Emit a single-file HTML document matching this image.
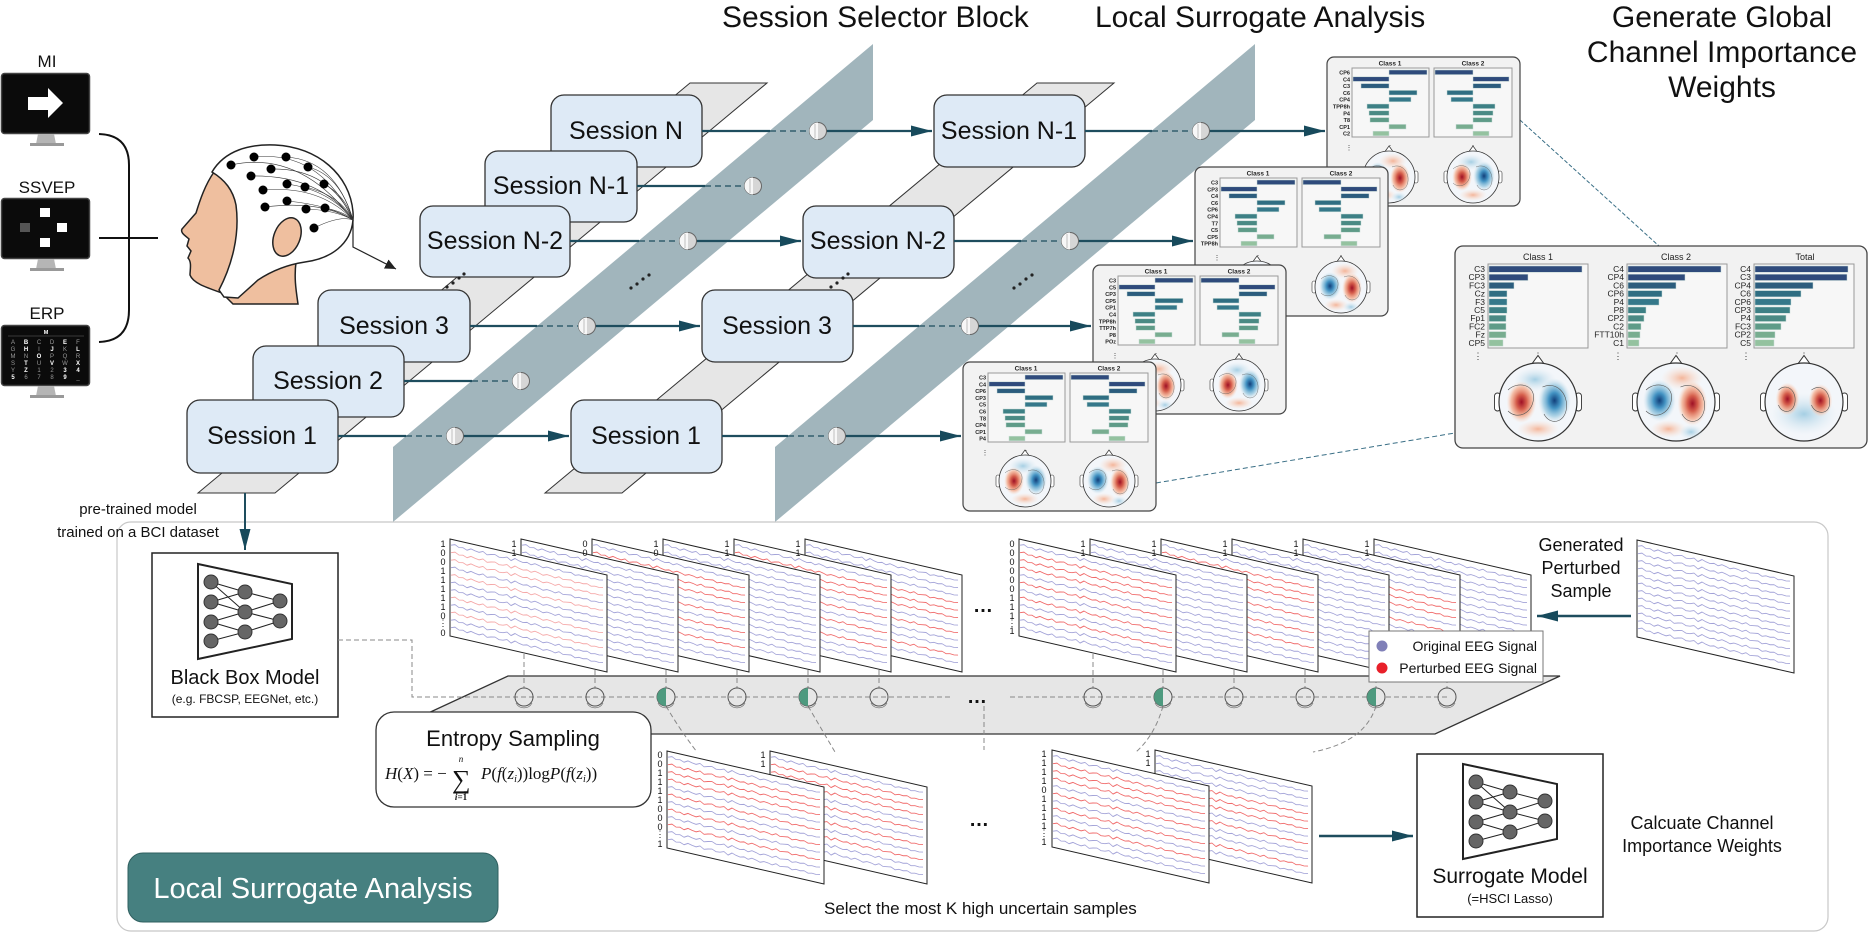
<!DOCTYPE html>
<html><head><meta charset="utf-8"><style>
html,body{margin:0;padding:0;background:#fff;}
svg{display:block;font-family:"Liberation Sans",Arial,sans-serif;}
</style></head><body>
<svg width="1869" height="933" viewBox="0 0 1869 933" xmlns="http://www.w3.org/2000/svg">
<defs>
<marker id="ar" markerUnits="userSpaceOnUse" markerWidth="22" markerHeight="12" refX="21" refY="6" orient="auto"><path d="M0,0.5 L21,6 L0,11.5 Z" fill="#174a5c"/></marker>
<marker id="ak" markerUnits="userSpaceOnUse" markerWidth="12" markerHeight="10" refX="11" refY="5" orient="auto"><path d="M0,0 L11,5 L0,10 Z" fill="#222"/></marker>
<radialGradient id="gR"><stop offset="0" stop-color="#9e1025"/><stop offset="0.35" stop-color="#d6604d"/><stop offset="0.7" stop-color="#f4a582" stop-opacity="0.7"/><stop offset="1" stop-color="#fddbc7" stop-opacity="0"/></radialGradient>
<radialGradient id="gB"><stop offset="0" stop-color="#113f7a"/><stop offset="0.35" stop-color="#4393c3"/><stop offset="0.7" stop-color="#92c5de" stop-opacity="0.7"/><stop offset="1" stop-color="#d1e5f0" stop-opacity="0"/></radialGradient>
<radialGradient id="gRl"><stop offset="0" stop-color="#f4a582" stop-opacity="0.8"/><stop offset="1" stop-color="#fddbc7" stop-opacity="0"/></radialGradient>
<radialGradient id="gBl"><stop offset="0" stop-color="#92c5de" stop-opacity="0.8"/><stop offset="1" stop-color="#d1e5f0" stop-opacity="0"/></radialGradient>
<path id="w" d="M1,0 l4,-1.5 l4,2 l4,-0.8 l4,1.6 l4,-2.2 l4,1 l4,0.6 l4,-1.8 l4,2.4 l4,-1.2 l4,-0.9 l4,1.7 l4,-0.4 l4,-1.5 l4,2.6 l4,-3 l4,1.4 l4,0.8 l4,-1.1 l4,1.5 l4,-2 l4,0.9 l4,1.3 l4,-1.6 l4,0.4 l4,1.1 l4,-2.1 l4,1.8 l4,-0.7 l4,-0.6 l4,1.9 l4,-1.4 l4,0.5 l4,-1 l4,1.6 l4,-0.9 l4,0.3 l4,-0.8"/>
<g id="sB"><polygon points="0,0 157,36 157,133 0,97" fill="#fff" stroke="#222" stroke-width="1"/>
<g transform="skewY(12.93)" fill="none" stroke="#a3a3d8" stroke-width="0.9">
<use href="#w" y="6"/><use href="#w" y="13.5"/><use href="#w" y="21"/><use href="#w" y="28.5"/><use href="#w" y="36"/><use href="#w" y="43.5"/><use href="#w" y="51"/><use href="#w" y="58.5"/><use href="#w" y="66"/><use href="#w" y="73.5"/><use href="#w" y="81"/><use href="#w" y="88.5"/></g></g>
<g id="sR1"><polygon points="0,0 157,36 157,133 0,97" fill="#fff" stroke="#222" stroke-width="1"/>
<g transform="skewY(12.93)" fill="none" stroke="#a3a3d8" stroke-width="0.9">
<use href="#w" y="6"/><use href="#w" y="13.5" stroke="#f06a6a"/><use href="#w" y="21" stroke="#f06a6a"/><use href="#w" y="28.5" stroke="#f06a6a"/><use href="#w" y="36"/><use href="#w" y="43.5" stroke="#f06a6a"/><use href="#w" y="51"/><use href="#w" y="58.5" stroke="#f06a6a"/><use href="#w" y="66"/><use href="#w" y="73.5" stroke="#f06a6a"/><use href="#w" y="81"/><use href="#w" y="88.5"/></g></g>
<g id="sR2"><polygon points="0,0 157,36 157,133 0,97" fill="#fff" stroke="#222" stroke-width="1"/>
<g transform="skewY(12.93)" fill="none" stroke="#a3a3d8" stroke-width="0.9">
<use href="#w" y="6"/><use href="#w" y="13.5"/><use href="#w" y="21"/><use href="#w" y="28.5" stroke="#f06a6a"/><use href="#w" y="36" stroke="#f06a6a"/><use href="#w" y="43.5" stroke="#f06a6a"/><use href="#w" y="51"/><use href="#w" y="58.5" stroke="#f06a6a"/><use href="#w" y="66"/><use href="#w" y="73.5"/><use href="#w" y="81" stroke="#f06a6a"/><use href="#w" y="88.5"/></g></g>
<g id="sP"><polygon points="0,0 157,36 157,133 0,97" fill="#fff" stroke="#222" stroke-width="1"/>
<g transform="skewY(12.93)" fill="none" stroke="#a3a3d8" stroke-width="0.9">
<use href="#w" y="6"/><use href="#w" y="13.5" stroke="#f5a8a8"/><use href="#w" y="21" stroke="#f5a8a8"/><use href="#w" y="28.5"/><use href="#w" y="36" stroke="#f5a8a8"/><use href="#w" y="43.5"/><use href="#w" y="51"/><use href="#w" y="58.5" stroke="#f5a8a8"/><use href="#w" y="66"/><use href="#w" y="73.5" stroke="#f5a8a8"/><use href="#w" y="81"/><use href="#w" y="88.5"/></g></g>

<g id="nd"><circle r="8.5" fill="#d6d6d6" stroke="#666" stroke-width="1"/><path d="M0,-8.5 A8.5,8.5 0 0 0 0,8.5 Z" fill="#f7f7f7"/><line x1="-3" y1="-7" x2="-3" y2="7" stroke="#999" stroke-width="0.6"/></g>
<g id="pc"><circle r="9" fill="none" stroke="#555" stroke-width="1"/><path d="M-8,6 A9,9 0 0 0 8,6" fill="none" stroke="#777" stroke-width="0.8"/></g>
<g id="pg"><circle r="9" fill="#e6e6e6" stroke="#555" stroke-width="1"/><path d="M0,-9 A9,9 0 0 0 0,9 Z" fill="#4e9a7f"/><path d="M-8,6 A9,9 0 0 0 8,6" fill="none" stroke="#777" stroke-width="0.8"/></g>

<g id="net">
<polygon points="198,564 292,584 292,639 198,659" fill="#fff" stroke="#222" stroke-width="2"/>
<g stroke="#222" stroke-width="1">
<line x1="211" y1="582" x2="245" y2="592"/><line x1="211" y1="602" x2="245" y2="592"/><line x1="211" y1="602" x2="245" y2="612"/><line x1="211" y1="622" x2="245" y2="612"/><line x1="211" y1="622" x2="245" y2="632"/><line x1="211" y1="582" x2="245" y2="612"/><line x1="211" y1="641" x2="245" y2="632"/>
<line x1="245" y1="592" x2="280" y2="601"/><line x1="245" y1="612" x2="280" y2="601"/><line x1="245" y1="612" x2="280" y2="621"/><line x1="245" y1="632" x2="280" y2="621"/></g>
<g fill="#666" stroke="#333" stroke-width="1">
<circle cx="211" cy="582" r="7"/><circle cx="211" cy="602" r="7"/><circle cx="211" cy="622" r="7"/><circle cx="211" cy="641" r="7"/>
<circle cx="245" cy="592" r="7"/><circle cx="245" cy="612" r="7"/><circle cx="245" cy="632" r="7"/>
<circle cx="280" cy="601" r="7"/><circle cx="280" cy="621" r="7"/></g></g>

<g id="hd">
<rect x="-29" y="-6" width="4" height="12" rx="2" fill="#fff" stroke="#333" stroke-width="0.6"/><rect x="25" y="-6" width="4" height="12" rx="2" fill="#fff" stroke="#333" stroke-width="0.6"/>
<path d="M-4,-25.5 L0,-31 L4,-25.5" fill="#fff" stroke="#333" stroke-width="0.7"/>
<circle r="26" fill="#f3f6fa" stroke="#333" stroke-width="0.8"/></g>
<g id="hA"><use href="#hd"/><ellipse cx="4" cy="-16" rx="14" ry="8" fill="url(#gRl)"/><ellipse cx="-5" cy="18" rx="12" ry="6" fill="url(#gRl)"/><ellipse cx="-11" cy="-1" rx="11" ry="14" fill="url(#gB)"/><ellipse cx="11" cy="1" rx="10" ry="15" fill="url(#gR)"/><ellipse cx="10" cy="20" rx="8" ry="5" fill="url(#gBl)"/><path d="M-20,-8 C-14,-14 -2,-12 -3,-2 C-4,8 -14,12 -20,6 M3,-10 C12,-14 20,-6 19,4 C18,14 8,16 4,8" fill="none" stroke="#555" stroke-width="0.4"/></g>
<g id="hB"><use href="#hd"/><ellipse cx="-2" cy="-15" rx="14" ry="8" fill="url(#gBl)"/><ellipse cx="0" cy="18" rx="14" ry="6" fill="url(#gRl)"/><ellipse cx="-11" cy="0" rx="10" ry="14" fill="url(#gR)"/><ellipse cx="11" cy="-1" rx="11" ry="15" fill="url(#gB)"/><path d="M-20,-8 C-14,-14 -2,-12 -3,-2 C-4,8 -14,12 -20,6 M3,-10 C12,-14 20,-6 19,4 C18,14 8,16 4,8" fill="none" stroke="#555" stroke-width="0.4"/></g>
<g id="hT"><use href="#hd"/><ellipse cx="0" cy="8" rx="22" ry="14" fill="url(#gBl)"/><ellipse cx="-11" cy="-2" rx="8" ry="11" fill="url(#gR)"/><ellipse cx="11" cy="-1" rx="8" ry="11" fill="url(#gR)"/><path d="M-17,-8 C-12,-13 -5,-8 -6,0 C-7,8 -15,8 -17,2 M5,-8 C12,-13 18,-6 17,2 C16,9 7,8 5,2" fill="none" stroke="#555" stroke-width="0.4"/></g>

<g id="ch">
<rect x="0" y="0" width="193" height="149" rx="7" fill="#f2f2f2" stroke="#444" stroke-width="1.2"/>
<rect x="25" y="11" width="77" height="69" fill="#f7f7f7" stroke="#999" stroke-width="1"/>
<rect x="107" y="11" width="78" height="69" fill="#f7f7f7" stroke="#999" stroke-width="1"/>
<g stroke="#c8dcd8" stroke-width="0.5">
<rect x="62" y="13" width="38" height="4.6" fill="#2f4b7c"/><rect x="26" y="19.8" width="36" height="4.6" fill="#2f4b7c"/><rect x="34" y="26.6" width="28" height="4.6" fill="#2c5d7e"/><rect x="62" y="33.4" width="28" height="4.6" fill="#2f6e82"/><rect x="62" y="40.2" width="22" height="4.6" fill="#35788a"/><rect x="40" y="47" width="22" height="4.6" fill="#3d8085"/><rect x="42" y="53.8" width="20" height="4.6" fill="#4a8a84"/><rect x="43" y="60.6" width="19" height="4.6" fill="#5f9b88"/><rect x="62" y="67.4" width="17" height="4.6" fill="#78ad90"/><rect x="46" y="74.2" width="16" height="4.6" fill="#94c29f"/>
<rect x="108" y="13" width="38" height="4.6" fill="#2f4b7c"/><rect x="146" y="19.8" width="36" height="4.6" fill="#2f4b7c"/><rect x="146" y="26.6" width="28" height="4.6" fill="#2c5d7e"/><rect x="120" y="33.4" width="26" height="4.6" fill="#2f6e82"/><rect x="124" y="40.2" width="22" height="4.6" fill="#35788a"/><rect x="146" y="47" width="22" height="4.6" fill="#3d8085"/><rect x="146" y="53.8" width="20" height="4.6" fill="#4a8a84"/><rect x="146" y="60.6" width="19" height="4.6" fill="#5f9b88"/><rect x="129" y="67.4" width="17" height="4.6" fill="#78ad90"/><rect x="146" y="74.2" width="16" height="4.6" fill="#94c29f"/></g>
<g font-size="7" fill="#333" text-anchor="middle"><text x="22" y="93">⋮</text><text x="63" y="93">⋮</text><text x="146" y="93">⋮</text></g>
<g font-size="6.5" font-weight="bold" fill="#222" text-anchor="middle"><text x="63" y="8.5">Class 1</text><text x="146" y="8.5">Class 2</text></g>
</g>
</defs>

<!-- Titles -->
<g font-size="30" fill="#111">
<text x="722" y="27">Session Selector Block</text>
<text x="1095" y="27">Local Surrogate Analysis</text>
<text x="1722" y="27" text-anchor="middle">Generate Global</text>
<text x="1722" y="62" text-anchor="middle">Channel Importance</text>
<text x="1722" y="97" text-anchor="middle">Weights</text>
</g>

<!-- Monitors -->
<g font-size="17" fill="#111" text-anchor="middle">
<text x="47" y="67">MI</text><text x="47" y="193">SSVEP</text><text x="47" y="319">ERP</text></g>
<g>
<rect x="1.5" y="73.5" width="88" height="60" rx="3" fill="#0b0b0b" stroke="#444" stroke-width="1.5"/>
<polygon points="38,134 54,134 56,144 36,144" fill="#b5b5b5"/><rect x="30" y="143" width="34" height="3" fill="#999"/>
<polygon points="28,97 48,97 48,88 63,103 48,118 48,110 28,110" fill="#fff"/>
<rect x="1.5" y="198.5" width="88" height="60" rx="3" fill="#0b0b0b" stroke="#444" stroke-width="1.5"/>
<polygon points="38,259 54,259 56,269 36,269" fill="#b5b5b5"/><rect x="30" y="268" width="34" height="3" fill="#999"/>
<rect x="40" y="208" width="10" height="9" fill="#fff"/><rect x="20" y="223" width="10" height="9" fill="#555"/><rect x="57" y="223" width="10" height="9" fill="#fff"/><rect x="40" y="238" width="10" height="9" fill="#fff"/>
<rect x="1.5" y="325.5" width="88" height="60" rx="3" fill="#0b0b0b" stroke="#444" stroke-width="1.5"/>
<polygon points="38,386 54,386 56,396 36,396" fill="#b5b5b5"/><rect x="30" y="395" width="34" height="3" fill="#999"/>
<text x="46" y="334" font-size="5.5" fill="#fff" text-anchor="middle" font-weight="bold">M</text>
<line x1="8" y1="336" x2="84" y2="336" stroke="#666" stroke-width="0.6"/>
<g font-size="6" fill="#9a9a9a" text-anchor="middle">
<text x="13" y="344">A</text><text x="26" y="344" fill="#fff" font-weight="bold">B</text><text x="39" y="344">C</text><text x="52" y="344">D</text><text x="65" y="344" fill="#fff" font-weight="bold">E</text><text x="78" y="344">F</text>
<text x="13" y="351">G</text><text x="26" y="351" fill="#fff" font-weight="bold">H</text><text x="39" y="351">I</text><text x="52" y="351" fill="#fff" font-weight="bold">J</text><text x="65" y="351">K</text><text x="78" y="351" fill="#fff" font-weight="bold">L</text>
<text x="13" y="358">M</text><text x="26" y="358">N</text><text x="39" y="358" fill="#fff" font-weight="bold">O</text><text x="52" y="358">P</text><text x="65" y="358">Q</text><text x="78" y="358">R</text>
<text x="13" y="365">S</text><text x="26" y="365" fill="#fff" font-weight="bold">T</text><text x="39" y="365">U</text><text x="52" y="365" fill="#fff" font-weight="bold">V</text><text x="65" y="365">W</text><text x="78" y="365" fill="#fff" font-weight="bold">X</text>
<text x="13" y="372">Y</text><text x="26" y="372" fill="#fff" font-weight="bold">Z</text><text x="39" y="372">1</text><text x="52" y="372">2</text><text x="65" y="372" fill="#fff" font-weight="bold">3</text><text x="78" y="372" fill="#fff" font-weight="bold">4</text>
<text x="13" y="379" fill="#fff" font-weight="bold">5</text><text x="26" y="379">6</text><text x="39" y="379">7</text><text x="52" y="379">8</text><text x="65" y="379" fill="#fff" font-weight="bold">9</text><text x="78" y="379">_</text></g>
</g>
<!-- Brace -->
<path d="M99,134 Q129,135 129,165 L129,310 Q129,341 99,342" fill="none" stroke="#111" stroke-width="2"/>
<line x1="99" y1="238" x2="158" y2="238" stroke="#111" stroke-width="2"/>

<!-- Head -->
<path d="M214,172 C205,185 200,200 196,213 L182,229 C180,233 186,236 189,239 L187,246 L191,251 L188,258 C192,262 190,270 190,275 C193,283 205,287 222,293 L233,304 L298,304 C296,290 294,278 296,262 L300,240 L262,190 Z" fill="#efbf9f" stroke="#222" stroke-width="1.5"/>
<path d="M212,172 C225,150 250,144 275,145 C318,147 350,175 353,212 C355,240 335,258 305,262 C285,265 270,272 258,280 L238,298 L224,297 L219,290 C232,265 240,235 236,205 C233,190 225,180 212,172 Z" fill="#fff" stroke="#222" stroke-width="1.5"/>
<ellipse cx="287" cy="237" rx="13" ry="20" transform="rotate(22 287 237)" fill="#efbf9f" stroke="#222" stroke-width="1.5"/>
<g fill="none" stroke="#333" stroke-width="0.6">
<path d="M231,165 Q300,150 353,220"/><path d="M254,157 Q320,150 353,220"/><path d="M286,157 Q335,160 353,220"/><path d="M271,169 Q330,168 353,220"/><path d="M308,167 Q340,175 353,220"/><path d="M251,176 Q320,175 353,220"/><path d="M263,190 Q320,185 353,220"/><path d="M287,184 Q330,190 353,220"/><path d="M305,187 Q340,195 353,220"/><path d="M324,184 Q345,195 353,220"/><path d="M265,207 Q320,200 353,220"/><path d="M287,201 Q330,205 353,220"/><path d="M306,209 Q335,210 353,220"/><path d="M325,208 Q345,212 353,220"/><path d="M314,228 Q340,215 353,220"/></g>
<g fill="#000"><circle cx="231" cy="165" r="4.5"/><circle cx="254" cy="157" r="4.5"/><circle cx="286" cy="157" r="4.5"/><circle cx="271" cy="169" r="4.5"/><circle cx="308" cy="167" r="4.5"/><circle cx="251" cy="176" r="4.5"/><circle cx="263" cy="190" r="4.5"/><circle cx="287" cy="184" r="4.5"/><circle cx="305" cy="187" r="4.5"/><circle cx="324" cy="184" r="4.5"/><circle cx="265" cy="207" r="4.5"/><circle cx="287" cy="201" r="4.5"/><circle cx="306" cy="209" r="4.5"/><circle cx="325" cy="208" r="4.5"/><circle cx="314" cy="228" r="4.5"/></g>
<path d="M353,220 L353,247 L396,269" fill="none" stroke="#222" stroke-width="1.2" marker-end="url(#ak)"/>

<!-- Slabs -->
<polygon points="690,83 767,83 275,493 198,493" fill="#e6e6e6" stroke="#333" stroke-width="1"/>
<polygon points="1037,83 1114,83 622,493 545,493" fill="#e6e6e6" stroke="#333" stroke-width="1"/>

<!-- Session boxes col1 -->
<rect x="551" y="95" width="151" height="72" rx="13" fill="#deeaf6" stroke="#333" stroke-width="1.3"/>
<text x="626" y="139" font-size="25" text-anchor="middle" fill="#111">Session N</text>
<rect x="485" y="151" width="152" height="71" rx="13" fill="#deeaf6" stroke="#333" stroke-width="1.3"/>
<text x="561" y="194" font-size="25" text-anchor="middle" fill="#111">Session N-1</text>
<rect x="420" y="206" width="150" height="71" rx="13" fill="#deeaf6" stroke="#333" stroke-width="1.3"/>
<text x="495" y="249" font-size="25" text-anchor="middle" fill="#111">Session N-2</text>
<rect x="318" y="290" width="152" height="72" rx="13" fill="#deeaf6" stroke="#333" stroke-width="1.3"/>
<text x="394" y="334" font-size="25" text-anchor="middle" fill="#111">Session 3</text>
<rect x="253" y="346" width="151" height="71" rx="13" fill="#deeaf6" stroke="#333" stroke-width="1.3"/>
<text x="328" y="389" font-size="25" text-anchor="middle" fill="#111">Session 2</text>
<rect x="187" y="400" width="151" height="73" rx="13" fill="#deeaf6" stroke="#333" stroke-width="1.3"/>
<text x="262" y="444" font-size="25" text-anchor="middle" fill="#111">Session 1</text>
<!-- col2 -->
<rect x="934" y="95" width="151" height="72" rx="13" fill="#deeaf6" stroke="#333" stroke-width="1.3"/>
<text x="1009" y="139" font-size="25" text-anchor="middle" fill="#111">Session N-1</text>
<rect x="803" y="206" width="151" height="72" rx="13" fill="#deeaf6" stroke="#333" stroke-width="1.3"/>
<text x="878" y="249" font-size="25" text-anchor="middle" fill="#111">Session N-2</text>
<rect x="702" y="290" width="151" height="72" rx="13" fill="#deeaf6" stroke="#333" stroke-width="1.3"/>
<text x="777" y="334" font-size="25" text-anchor="middle" fill="#111">Session 3</text>
<rect x="571" y="400" width="151" height="73" rx="13" fill="#deeaf6" stroke="#333" stroke-width="1.3"/>
<text x="646" y="444" font-size="25" text-anchor="middle" fill="#111">Session 1</text>

<!-- dots in stacks -->
<g fill="#222"><circle cx="447" cy="287" r="1.6"/><circle cx="453" cy="283" r="1.6"/><circle cx="459" cy="278" r="1.6"/><circle cx="464" cy="274" r="1.6"/>
<circle cx="831" cy="287" r="1.6"/><circle cx="837" cy="283" r="1.6"/><circle cx="843" cy="278" r="1.6"/><circle cx="848" cy="274" r="1.6"/></g>

<!-- Bands -->
<polygon points="393,447 873,44 873,120 393,522" fill="#a1b5bc"/>
<polygon points="775,447 1255,44 1255,120 775,522" fill="#a1b5bc"/>
<g fill="#222"><circle cx="631" cy="288" r="1.6"/><circle cx="637" cy="284" r="1.6"/><circle cx="643" cy="279" r="1.6"/><circle cx="649" cy="275" r="1.6"/>
<circle cx="1014" cy="288" r="1.6"/><circle cx="1020" cy="284" r="1.6"/><circle cx="1026" cy="279" r="1.6"/><circle cx="1032" cy="275" r="1.6"/></g>

<!-- Row connectors -->
<g stroke="#1e4d5e" stroke-width="2.2" fill="none">
<line x1="702" y1="131" x2="770" y2="131"/><line x1="818" y1="131" x2="932" y2="131" marker-end="url(#ar)"/>
<line x1="637" y1="186" x2="705" y2="186"/>
<line x1="570" y1="241" x2="639" y2="241"/><line x1="688" y1="241" x2="801" y2="241" marker-end="url(#ar)"/>
<line x1="470" y1="326" x2="537" y2="326"/><line x1="587" y1="326" x2="700" y2="326" marker-end="url(#ar)"/>
<line x1="404" y1="381" x2="472" y2="381"/>
<line x1="338" y1="436" x2="406" y2="436"/><line x1="455" y1="436" x2="569" y2="436" marker-end="url(#ar)"/>
<line x1="1085" y1="131" x2="1152" y2="131"/><line x1="1201" y1="131" x2="1325" y2="131" marker-end="url(#ar)"/>
<line x1="954" y1="241" x2="1021" y2="241"/><line x1="1070" y1="241" x2="1193" y2="241" marker-end="url(#ar)"/>
<line x1="853" y1="326" x2="919" y2="326"/><line x1="970" y1="326" x2="1091" y2="326" marker-end="url(#ar)"/>
<line x1="722" y1="436" x2="788" y2="436"/><line x1="837" y1="436" x2="961" y2="436" marker-end="url(#ar)"/>
</g>
<g stroke="#1e4d5e" stroke-width="1.3" stroke-dasharray="6,4" fill="none">
<line x1="770" y1="131" x2="818" y2="131"/><line x1="705" y1="186" x2="753" y2="186"/><line x1="639" y1="241" x2="688" y2="241"/><line x1="537" y1="326" x2="587" y2="326"/><line x1="472" y1="381" x2="521" y2="381"/><line x1="406" y1="436" x2="455" y2="436"/>
<line x1="1152" y1="131" x2="1201" y2="131"/><line x1="1021" y1="241" x2="1070" y2="241"/><line x1="919" y1="326" x2="970" y2="326"/><line x1="788" y1="436" x2="837" y2="436"/></g>
<use href="#nd" x="818" y="131"/><use href="#nd" x="753" y="186"/><use href="#nd" x="688" y="241"/><use href="#nd" x="587" y="326"/><use href="#nd" x="521" y="381"/><use href="#nd" x="455" y="436"/>
<use href="#nd" x="1201" y="131"/><use href="#nd" x="1070" y="241"/><use href="#nd" x="970" y="326"/><use href="#nd" x="837" y="436"/>

<!-- Dashed links to big chart -->
<line x1="1520" y1="120" x2="1659" y2="246" stroke="#3a6f86" stroke-width="1" stroke-dasharray="4,2"/>
<line x1="1156" y1="483" x2="1455" y2="433" stroke="#3a6f86" stroke-width="1" stroke-dasharray="5,3"/>

<!-- Small charts -->
<g transform="translate(1327,57)"><use href="#ch"/><use href="#hA" x="62" y="120"/><use href="#hB" x="146" y="120"/>
<g font-size="5.5" font-weight="bold" fill="#222" text-anchor="end"><text x="23" y="17.5">CP6</text><text x="23" y="24.3">C4</text><text x="23" y="31.1">C3</text><text x="23" y="37.9">C6</text><text x="23" y="44.7">CP4</text><text x="23" y="51.5">TPP8h</text><text x="23" y="58.3">P4</text><text x="23" y="65.1">T8</text><text x="23" y="71.9">CP1</text><text x="23" y="78.7">C2</text></g></g>
<g transform="translate(1195,167)"><use href="#ch"/><use href="#hB" x="62" y="120"/><use href="#hA" x="146" y="120"/>
<g font-size="5.5" font-weight="bold" fill="#222" text-anchor="end"><text x="23" y="17.5">C3</text><text x="23" y="24.3">CP3</text><text x="23" y="31.1">C4</text><text x="23" y="37.9">C6</text><text x="23" y="44.7">CP6</text><text x="23" y="51.5">CP4</text><text x="23" y="58.3">T7</text><text x="23" y="65.1">C5</text><text x="23" y="71.9">CP5</text><text x="23" y="78.7">TPP8h</text></g></g>
<g transform="translate(1093,265)"><use href="#ch"/><use href="#hA" x="62" y="120"/><use href="#hB" x="146" y="120"/>
<g font-size="5.5" font-weight="bold" fill="#222" text-anchor="end"><text x="23" y="17.5">C3</text><text x="23" y="24.3">C5</text><text x="23" y="31.1">CP3</text><text x="23" y="37.9">CP5</text><text x="23" y="44.7">CP1</text><text x="23" y="51.5">C4</text><text x="23" y="58.3">TPP8h</text><text x="23" y="65.1">TTP7h</text><text x="23" y="71.9">P8</text><text x="23" y="78.7">POz</text></g></g>
<g transform="translate(963,362)"><use href="#ch"/><use href="#hB" x="62" y="119"/><use href="#hA" x="146" y="119"/>
<g font-size="5.5" font-weight="bold" fill="#222" text-anchor="end"><text x="23" y="17.5">C3</text><text x="23" y="24.3">C4</text><text x="23" y="31.1">CP6</text><text x="23" y="37.9">CP3</text><text x="23" y="44.7">C5</text><text x="23" y="51.5">C6</text><text x="23" y="58.3">T8</text><text x="23" y="65.1">CP4</text><text x="23" y="71.9">CP1</text><text x="23" y="78.7">P4</text></g></g>

<!-- Big chart -->
<rect x="1455" y="246" width="412" height="202" rx="8" fill="#f2f2f2" stroke="#444" stroke-width="1.3"/>
<g fill="#f7f7f7" stroke="#999" stroke-width="1"><rect x="1488" y="264" width="100" height="84"/><rect x="1627" y="264" width="100" height="84"/><rect x="1754" y="264" width="100" height="84"/></g>
<g font-size="9" fill="#222" text-anchor="middle"><text x="1538" y="260">Class 1</text><text x="1676" y="260">Class 2</text><text x="1805" y="260">Total</text></g>
<g stroke="#c8dcd8" stroke-width="0.5">
<rect x="1489" y="266" width="93" height="6.3" fill="#2f4b7c"/><rect x="1489" y="274.2" width="39" height="6.3" fill="#2f4b7c"/><rect x="1489" y="282.4" width="25" height="6.3" fill="#2c5d7e"/><rect x="1489" y="290.6" width="18" height="6.3" fill="#2f6e82"/><rect x="1489" y="298.8" width="18" height="6.3" fill="#35788a"/><rect x="1489" y="307" width="18" height="6.3" fill="#3d8085"/><rect x="1489" y="315.2" width="17" height="6.3" fill="#4a8a84"/><rect x="1489" y="323.4" width="17" height="6.3" fill="#5f9b88"/><rect x="1489" y="331.6" width="17" height="6.3" fill="#78ad90"/><rect x="1489" y="339.8" width="14" height="6.3" fill="#94c29f"/>
<rect x="1628" y="266" width="93" height="6.3" fill="#2f4b7c"/><rect x="1628" y="274.2" width="57" height="6.3" fill="#2f4b7c"/><rect x="1628" y="282.4" width="48" height="6.3" fill="#2c5d7e"/><rect x="1628" y="290.6" width="34" height="6.3" fill="#2f6e82"/><rect x="1628" y="298.8" width="31" height="6.3" fill="#35788a"/><rect x="1628" y="307" width="18" height="6.3" fill="#3d8085"/><rect x="1628" y="315.2" width="16" height="6.3" fill="#4a8a84"/><rect x="1628" y="323.4" width="13" height="6.3" fill="#5f9b88"/><rect x="1628" y="331.6" width="12" height="6.3" fill="#78ad90"/><rect x="1628" y="339.8" width="11" height="6.3" fill="#94c29f"/>
<rect x="1755" y="266" width="93" height="6.3" fill="#2f4b7c"/><rect x="1755" y="274.2" width="92" height="6.3" fill="#2f4b7c"/><rect x="1755" y="282.4" width="58" height="6.3" fill="#2c5d7e"/><rect x="1755" y="290.6" width="46" height="6.3" fill="#2f6e82"/><rect x="1755" y="298.8" width="36" height="6.3" fill="#35788a"/><rect x="1755" y="307" width="35" height="6.3" fill="#3d8085"/><rect x="1755" y="315.2" width="31" height="6.3" fill="#4a8a84"/><rect x="1755" y="323.4" width="26" height="6.3" fill="#5f9b88"/><rect x="1755" y="331.6" width="20" height="6.3" fill="#78ad90"/><rect x="1755" y="339.8" width="19" height="6.3" fill="#94c29f"/></g>
<g font-size="8.5" fill="#222" text-anchor="end">
<text x="1485" y="272">C3</text><text x="1485" y="280.2">CP3</text><text x="1485" y="288.4">FC3</text><text x="1485" y="296.6">Cz</text><text x="1485" y="304.8">F3</text><text x="1485" y="313">C5</text><text x="1485" y="321.2">Fp1</text><text x="1485" y="329.4">FC2</text><text x="1485" y="337.6">Fz</text><text x="1485" y="345.8">CP5</text>
<text x="1624" y="272">C4</text><text x="1624" y="280.2">CP4</text><text x="1624" y="288.4">C6</text><text x="1624" y="296.6">CP6</text><text x="1624" y="304.8">P4</text><text x="1624" y="313">P8</text><text x="1624" y="321.2">CP2</text><text x="1624" y="329.4">C2</text><text x="1624" y="337.6">FTT10h</text><text x="1624" y="345.8">C1</text>
<text x="1751" y="272">C4</text><text x="1751" y="280.2">C3</text><text x="1751" y="288.4">CP4</text><text x="1751" y="296.6">C6</text><text x="1751" y="304.8">CP6</text><text x="1751" y="313">CP3</text><text x="1751" y="321.2">P4</text><text x="1751" y="329.4">FC3</text><text x="1751" y="337.6">CP2</text><text x="1751" y="345.8">C5</text></g>
<g font-size="9" fill="#333" text-anchor="middle"><text x="1478" y="359">⋮</text><text x="1538" y="359">⋮</text><text x="1618" y="359">⋮</text><text x="1677" y="359">⋮</text><text x="1746" y="359">⋮</text><text x="1804" y="359">⋮</text></g>
<use href="#hB" transform="translate(1538,402) scale(1.5)"/>
<use href="#hA" transform="translate(1676,402) scale(1.5)"/>
<use href="#hT" transform="translate(1804,402) scale(1.5)"/>

<!-- Bottom container -->
<rect x="117" y="522" width="1711" height="409" rx="14" fill="none" stroke="#c8c8c8" stroke-width="1.2"/>
<line x1="245" y1="493" x2="245" y2="550" stroke="#1e4d5e" stroke-width="2" marker-end="url(#ar)"/>
<g font-size="15" fill="#111" text-anchor="middle"><text x="138" y="514">pre-trained model</text><text x="138" y="537">trained on a BCI dataset</text></g>

<!-- Black box -->
<rect x="152" y="553" width="186" height="164" fill="#fff" stroke="#222" stroke-width="1.5"/>
<use href="#net"/>
<text x="245" y="684" font-size="20" text-anchor="middle" fill="#111">Black Box Model</text>
<text x="245" y="703" font-size="12" text-anchor="middle" fill="#111">(e.g. FBCSP, EEGNet, etc.)</text>

<!-- Platform -->
<polygon points="508,676 1560,676 1435,734 383,734" fill="#e6e6e6" stroke="#333" stroke-width="1.3"/>

<!-- Top sheets group 1 -->
<use href="#sR2" x="805" y="539"/><use href="#sR1" x="734" y="539"/><use href="#sB" x="663" y="539"/><use href="#sR1" x="592" y="539"/><use href="#sB" x="521" y="539"/><use href="#sP" x="450" y="539"/>
<!-- Top sheets group 2 -->
<use href="#sB" x="1374" y="539"/><use href="#sR2" x="1303" y="539"/><use href="#sB" x="1232" y="539"/><use href="#sR1" x="1161" y="539"/><use href="#sB" x="1090" y="539"/><use href="#sR1" x="1019" y="539"/>
<use href="#sB" x="1637" y="540"/>
<g font-size="9" fill="#111" text-anchor="middle">
<text x="443" y="547">1</text><text x="443" y="556">0</text><text x="443" y="565">0</text><text x="443" y="574">1</text><text x="443" y="583">1</text><text x="443" y="592">1</text><text x="443" y="601">1</text><text x="443" y="610">1</text><text x="443" y="619">0</text><text x="443" y="626">⋮</text><text x="443" y="636">0</text>
<text x="514" y="547">1</text><text x="514" y="556">1</text><text x="585" y="547">0</text><text x="585" y="556">0</text><text x="656" y="547">1</text><text x="656" y="556">0</text><text x="727" y="547">1</text><text x="727" y="556">1</text><text x="798" y="547">1</text><text x="798" y="556">1</text>
<text x="1012" y="547">0</text><text x="1012" y="556">0</text><text x="1012" y="565">0</text><text x="1012" y="574">0</text><text x="1012" y="583">0</text><text x="1012" y="592">0</text><text x="1012" y="601">1</text><text x="1012" y="610">1</text><text x="1012" y="619">1</text><text x="1012" y="626">⋮</text><text x="1012" y="634">1</text>
<text x="1083" y="547">1</text><text x="1083" y="556">1</text><text x="1154" y="547">1</text><text x="1154" y="556">1</text><text x="1225" y="547">1</text><text x="1225" y="556">1</text><text x="1296" y="547">1</text><text x="1296" y="556">1</text><text x="1367" y="547">1</text><text x="1367" y="556">1</text>
</g>
<g font-size="20" fill="#111" font-weight="bold"><text x="973" y="612">…</text><text x="969" y="826">…</text><text x="967" y="703">…</text></g>

<!-- Dashed connectors on platform -->
<g stroke="#888" stroke-width="1" stroke-dasharray="5,3" fill="none">
<path d="M338,640 L412,640 L412,697 L950,697"/><line x1="1010" y1="697" x2="1447" y2="697"/>
<line x1="524" y1="654" x2="524" y2="688"/><line x1="595" y1="670" x2="595" y2="688"/><line x1="666" y1="670" x2="666" y2="688"/><line x1="737" y1="670" x2="737" y2="688"/><line x1="808" y1="670" x2="808" y2="688"/><line x1="879" y1="670" x2="879" y2="688"/>
<line x1="1093" y1="654" x2="1093" y2="688"/><line x1="1163" y1="670" x2="1163" y2="688"/><line x1="1234" y1="670" x2="1234" y2="688"/><line x1="1305" y1="670" x2="1305" y2="688"/><line x1="1376" y1="670" x2="1376" y2="688"/><line x1="1447" y1="670" x2="1447" y2="688"/>
<path d="M666,706 Q680,730 697,752"/><path d="M808,706 Q822,730 835,752"/><path d="M1163,706 Q1155,735 1136,752"/><path d="M1376,706 Q1365,742 1313,752"/><line x1="984" y1="706" x2="984" y2="750"/></g>
<use href="#pc" x="524" y="697"/><use href="#pc" x="595" y="697"/><use href="#pg" x="666" y="697"/><use href="#pc" x="737" y="697"/><use href="#pg" x="808" y="697"/><use href="#pc" x="879" y="697"/>
<use href="#pc" x="1093" y="697"/><use href="#pg" x="1163" y="697"/><use href="#pc" x="1234" y="697"/><use href="#pc" x="1305" y="697"/><use href="#pg" x="1376" y="697"/><use href="#pc" x="1447" y="697"/>

<!-- Legend -->
<rect x="1369" y="631" width="174" height="51" fill="#fff" stroke="#777" stroke-width="1"/>
<circle cx="1382" cy="646" r="5.5" fill="#8080b8"/><circle cx="1382" cy="668" r="5.5" fill="#e8202a"/>
<g font-size="14" fill="#111" text-anchor="end"><text x="1537" y="651">Original EEG Signal</text><text x="1537" y="673">Perturbed EEG Signal</text></g>

<!-- Generated perturbed sample -->
<g font-size="18" fill="#111" text-anchor="middle"><text x="1581" y="551">Generated</text><text x="1581" y="574">Perturbed</text><text x="1581" y="597">Sample</text></g>
<line x1="1631" y1="616" x2="1537" y2="616" stroke="#1e4d5e" stroke-width="2.5" marker-end="url(#ar)"/>

<!-- Entropy box -->
<rect x="376" y="712" width="275" height="95" rx="18" fill="#fff" stroke="#333" stroke-width="1.3"/>
<text x="513" y="746" font-size="22" text-anchor="middle" fill="#111">Entropy Sampling</text>
<g font-family="Liberation Serif, serif" fill="#111">
<text x="385" y="779" font-size="17"><tspan font-style="italic">H</tspan>(<tspan font-style="italic">X</tspan>) = −</text>
<text x="452" y="788" font-size="26">∑</text>
<text x="461" y="762" font-size="9" font-style="italic" text-anchor="middle">n</text>
<text x="461" y="800" font-size="9" font-weight="bold" text-anchor="middle"><tspan font-style="italic">i</tspan>=1</text>
<text x="481" y="779" font-size="17"><tspan font-style="italic">P</tspan>(<tspan font-style="italic">f</tspan>(<tspan font-style="italic">z</tspan><tspan font-size="10" dy="3" font-style="italic">i</tspan><tspan dy="-3">))log</tspan><tspan font-style="italic">P</tspan>(<tspan font-style="italic">f</tspan>(<tspan font-style="italic">z</tspan><tspan font-size="10" dy="3" font-style="italic">i</tspan><tspan dy="-3">))</tspan></text>
</g>

<!-- Bottom sheets -->
<use href="#sR1" x="770" y="751"/><use href="#sR1" x="667" y="751"/>
<use href="#sR2" x="1155" y="750"/><use href="#sR1" x="1052" y="750"/>
<g font-size="9" fill="#111" text-anchor="middle">
<text x="660" y="758">0</text><text x="660" y="767">0</text><text x="660" y="776">1</text><text x="660" y="785">1</text><text x="660" y="794">1</text><text x="660" y="803">1</text><text x="660" y="812">0</text><text x="660" y="821">0</text><text x="660" y="830">0</text><text x="660" y="837">⋮</text><text x="660" y="847">1</text>
<text x="763" y="758">1</text><text x="763" y="767">1</text>
<text x="1044" y="757">1</text><text x="1044" y="766">1</text><text x="1044" y="775">1</text><text x="1044" y="784">1</text><text x="1044" y="793">0</text><text x="1044" y="802">1</text><text x="1044" y="811">1</text><text x="1044" y="820">1</text><text x="1044" y="829">1</text><text x="1044" y="836">⋮</text><text x="1044" y="845">1</text>
<text x="1148" y="757">1</text><text x="1148" y="766">1</text></g>

<line x1="1319" y1="836" x2="1413" y2="836" stroke="#1e4d5e" stroke-width="2.5" marker-end="url(#ar)"/>

<!-- Surrogate -->
<rect x="1417" y="754" width="186" height="163" fill="#fff" stroke="#222" stroke-width="1.5"/>
<use href="#net" transform="translate(1265,200)"/>
<text x="1510" y="883" font-size="21" text-anchor="middle" fill="#111">Surrogate Model</text>
<text x="1510" y="903" font-size="13" text-anchor="middle" fill="#111">(=HSCI Lasso)</text>
<g font-size="18" fill="#111" text-anchor="middle"><text x="1702" y="829">Calcuate Channel</text><text x="1702" y="852">Importance Weights</text></g>

<text x="824" y="914" font-size="17" fill="#111">Select the most K high uncertain samples</text>

<rect x="128" y="853" width="370" height="69" rx="15" fill="#468080" stroke="#2f5f5f" stroke-width="1"/>
<text x="313" y="898" font-size="29" text-anchor="middle" fill="#fff">Local Surrogate Analysis</text>
</svg>
</body></html>
